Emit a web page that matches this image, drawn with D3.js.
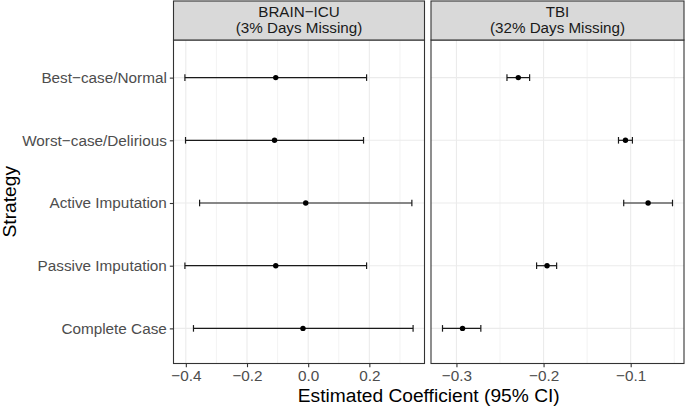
<!DOCTYPE html>
<html>
<head>
<meta charset="utf-8">
<script src="https://cdn.jsdelivr.net/npm/d3@7"></script>
<style>
  body { margin: 0; background: #fff; }
  svg { font-family: "Liberation Sans", Arial, sans-serif; }
</style>
</head>
<body>
<div id="chart"></div>
<script>
// Strategies, top to bottom
const strategies = [
  "Best\u2212case/Normal",
  "Worst\u2212case/Delirious",
  "Active Imputation",
  "Passive Imputation",
  "Complete Case"
];

const panelTitles = [
  ["BRAIN\u2212ICU", "(3% Days Missing)"],
  ["TBI", "(32% Days Missing)"]
];

// BRAIN-ICU estimates and 95% CI
const brainEst = [-0.106, -0.110, -0.008, -0.106, -0.017];
const brainLow = [-0.403, -0.401, -0.355, -0.403, -0.375];
const brainHigh = [0.191, 0.181, 0.339, 0.191, 0.343];

// TBI estimates and 95% CI
const tbiEst = [-0.229, -0.106, -0.080, -0.196, -0.293];
const tbiLow = [-0.242, -0.114, -0.108, -0.208, -0.316];
const tbiHigh = [-0.216, -0.098, -0.052, -0.185, -0.272];

const brainTicks = [-0.4, -0.2, 0.0, 0.2];
const tbiTicks = [-0.3, -0.2, -0.1];

const W = 685, H = 406;
const panelTop = 40, panelBottom = 363.5, stripTop = 1;
const tickFont = "15.3px", stripFont = "15.2px", titleFont = "19.2px";
const panels = [
  { x0: 173.5, x1: 424.5, est: brainEst, low: brainLow, high: brainHigh, ticks: brainTicks, title: panelTitles[0] },
  { x0: 431, x1: 684, est: tbiEst, low: tbiLow, high: tbiHigh, ticks: tbiTicks, title: panelTitles[1] }
];

const svg = d3.select("#chart").append("svg")
  .attr("width", W)
  .attr("height", H);

const y = d3.scalePoint()
  .domain(strategies)
  .range([panelTop, panelBottom + 2.5])
  .padding(0.6);

const fmt = v => d3.format(".1f")(v).replace("-", "\u2212");

panels.forEach(p => {
  // ggplot-style 5% expansion of the data range
  const lo = d3.min(p.low), hi = d3.max(p.high);
  const pad = (hi - lo) * 0.05;
  const x = d3.scaleLinear().domain([lo - pad, hi + pad]).range([p.x0, p.x1]);

  const g = svg.append("g");

  // minor grid
  const step = p.ticks[1] - p.ticks[0];
  const minor = [p.ticks[0] - step / 2].concat(p.ticks.map(t => t + step / 2));
  g.selectAll(".minor")
    .data(minor.filter(v => x(v) > p.x0 && x(v) < p.x1))
    .join("line")
    .attr("x1", d => x(d)).attr("x2", d => x(d))
    .attr("y1", panelTop).attr("y2", panelBottom)
    .attr("stroke", "#EBEBEB")
    .attr("stroke-width", 0.6);

  // major grid
  g.selectAll(".vmajor")
    .data(p.ticks)
    .join("line")
    .attr("x1", d => x(d)).attr("x2", d => x(d))
    .attr("y1", panelTop).attr("y2", panelBottom)
    .attr("stroke", "#EBEBEB")
    .attr("stroke-width", 1.1);

  g.selectAll(".hmajor")
    .data(strategies)
    .join("line")
    .attr("x1", p.x0).attr("x2", p.x1)
    .attr("y1", d => y(d)).attr("y2", d => y(d))
    .attr("stroke", "#EBEBEB")
    .attr("stroke-width", 1.1);

  // error bars
  const capH = 3.3;
  strategies.forEach((s, i) => {
    const yy = y(s);
    g.append("line")
      .attr("x1", x(p.low[i])).attr("x2", x(p.high[i]))
      .attr("y1", yy).attr("y2", yy)
      .attr("stroke", "#1a1a1a").attr("stroke-width", 1.2);
    [p.low[i], p.high[i]].forEach(v => {
      g.append("line")
        .attr("x1", x(v)).attr("x2", x(v))
        .attr("y1", yy - capH).attr("y2", yy + capH)
        .attr("stroke", "#1a1a1a").attr("stroke-width", 1.2);
    });
    g.append("circle")
      .attr("cx", x(p.est[i])).attr("cy", yy)
      .attr("r", 2.7)
      .attr("fill", "#000");
  });

  // panel border
  g.append("rect")
    .attr("x", p.x0).attr("y", panelTop)
    .attr("width", p.x1 - p.x0).attr("height", panelBottom - panelTop)
    .attr("fill", "none")
    .attr("stroke", "#333333").attr("stroke-width", 1.1);

  // strip
  g.append("rect")
    .attr("x", p.x0).attr("y", stripTop)
    .attr("width", p.x1 - p.x0).attr("height", panelTop - stripTop)
    .attr("fill", "#D9D9D9")
    .attr("stroke", "#333333").attr("stroke-width", 1.1);

  p.title.forEach((t, li) => {
    g.append("text")
      .attr("x", (p.x0 + p.x1) / 2)
      .attr("y", 17.3 + li * 16)
      .attr("text-anchor", "middle")
      .attr("fill", "#1A1A1A")
      .style("font-size", stripFont)
      .text(t);
  });

  // x axis
  const xAxis = svg.append("g")
    .attr("transform", `translate(0,${panelBottom})`)
    .call(d3.axisBottom(x).tickValues(p.ticks).tickSizeOuter(0).tickSizeInner(3.7).tickPadding(3).tickFormat(fmt));
  xAxis.select(".domain").remove();
  xAxis.selectAll("line").attr("stroke", "#333333").attr("stroke-width", 1.1);
  xAxis.selectAll("text")
    .attr("fill", "#4D4D4D")
    .style("font-size", tickFont)
    .attr("font-family", null);
});

// y axis
const yAxis = svg.append("g")
  .attr("transform", `translate(${panels[0].x0},0)`)
  .call(d3.axisLeft(y).tickSizeOuter(0).tickSizeInner(3.7).tickPadding(3));
yAxis.select(".domain").remove();
yAxis.selectAll("line").attr("stroke", "#333333").attr("stroke-width", 1.1);
yAxis.selectAll("text")
  .attr("fill", "#4D4D4D")
  .style("font-size", tickFont)
  .attr("font-family", null);

// axis titles
svg.append("text")
  .attr("x", (panels[0].x0 + panels[1].x1) / 2)
  .attr("y", 401.5)
  .attr("text-anchor", "middle")
  .attr("fill", "#000")
  .style("font-size", titleFont)
  .text("Estimated Coefficient (95% CI)");

svg.append("text")
  .attr("transform", `translate(16,${(panelTop + panelBottom) / 2}) rotate(-90)`)
  .attr("text-anchor", "middle")
  .attr("fill", "#000")
  .style("font-size", titleFont)
  .text("Strategy");
</script>
</body>
</html>
